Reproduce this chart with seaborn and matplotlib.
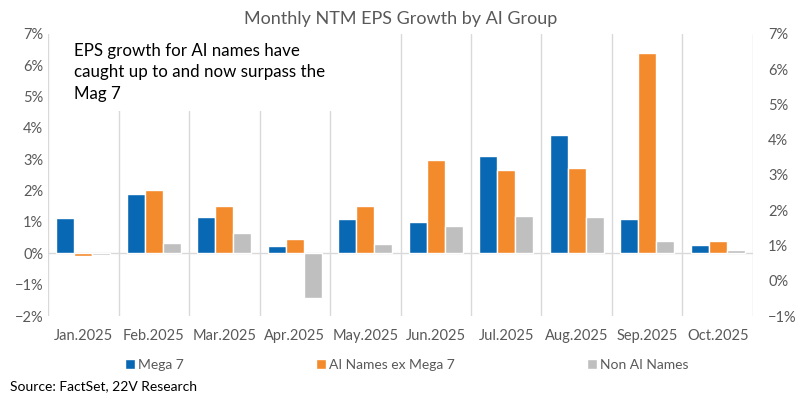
import numpy as np
import pandas as pd
import matplotlib
matplotlib.use("Agg")
import matplotlib.pyplot as plt
import seaborn as sns
from matplotlib.ticker import PercentFormatter

# monthly NTM EPS growth (%)
months = ["Jan.2025", "Feb.2025", "Mar.2025", "Apr.2025", "May.2025",
          "Jun.2025", "Jul.2025", "Aug.2025", "Sep.2025", "Oct.2025"]
mega7 = [1.13, 1.89, 1.16, 0.23, 1.10, 1.00, 3.11, 3.78, 1.10, 0.27]
ai_ex_mega7 = [-0.10, 2.02, 1.51, 0.46, 1.51, 2.98, 2.66, 2.72, 6.39, 0.39]
non_ai = [-0.07, 0.33, 0.65, -1.41, 0.30, 0.87, 1.19, 1.16, 0.39, 0.11]
groups = ["Mega 7", "AI Names ex Mega 7", "Non AI Names"]

df = pd.DataFrame({"Month": months, groups[0]: mega7,
                   groups[1]: ai_ex_mega7, groups[2]: non_ai})
df = df.melt(id_vars="Month", var_name="Group", value_name="Growth")

sns.set_style("white")
plt.rcParams["font.family"] = ["Lato", "DejaVu Sans"]
grey_txt = "#595959"

fig = plt.figure(figsize=(8.01, 3.98), dpi=100)
ax = fig.add_axes([0.060, 0.206, 0.880, 0.709])
sns.barplot(data=df, x="Month", y="Growth", hue="Group", hue_order=groups,
            palette=["#0868B4", "#F38A2B", "#BFBFBF"], width=0.77, gap=0,
            saturation=1, ax=ax, zorder=3)

ax.set_xlim(-0.5, 9.5)
ax.set_ylim(-2, 7)
ax.set_yticks(range(-2, 8))
ax.yaxis.set_major_formatter(PercentFormatter(decimals=0))
ax.set_xticks(np.arange(-0.5, 10), minor=True)
ax.grid(which="minor", axis="x", color="#D9D9D9", lw=1, zorder=0)
ax.axhline(0, color="#D9D9D9", lw=1, zorder=2)
ax.tick_params(which="both", length=0, labelsize=10.5, colors=grey_txt)
ax.tick_params(axis="x", pad=9)
ax.set_xlabel("")
ax.set_ylabel("")
sns.despine(ax=ax, left=True, bottom=True)

ax2 = ax.twinx()
ax2.set_ylim(-1, 7)
ax2.set_yticks(range(-1, 8))
ax2.yaxis.set_major_formatter(PercentFormatter(decimals=0))
ax2.tick_params(length=0, labelsize=10.5, colors=grey_txt, pad=11)
for s in ax2.spines.values():
    s.set_visible(False)

ax.text(-0.13, 6.72, "EPS growth for AI names have\ncaught up to and now surpass the\nMag 7",
        ha="left", va="top", fontsize=12.2, color="black", linespacing=1.45,
        bbox=dict(facecolor="white", edgecolor="none", pad=6), zorder=5)

fig.suptitle("Monthly NTM EPS Growth by AI Group", x=0.5, y=0.972,
             fontsize=13, color=grey_txt)

handles, labels = ax.get_legend_handles_labels()
ax.legend_.remove()
fig.legend(handles, labels, loc="center", bbox_to_anchor=(0.508, 0.083), ncol=3,
           frameon=False, fontsize=10, handlelength=0.7, handleheight=0.7,
           handletextpad=0.25, columnspacing=9.5, labelcolor=grey_txt)

fig.text(0.012, 0.02, "Source: FactSet, 22V Research", fontsize=10, color="black")

fig.savefig("out.png", dpi=100)
